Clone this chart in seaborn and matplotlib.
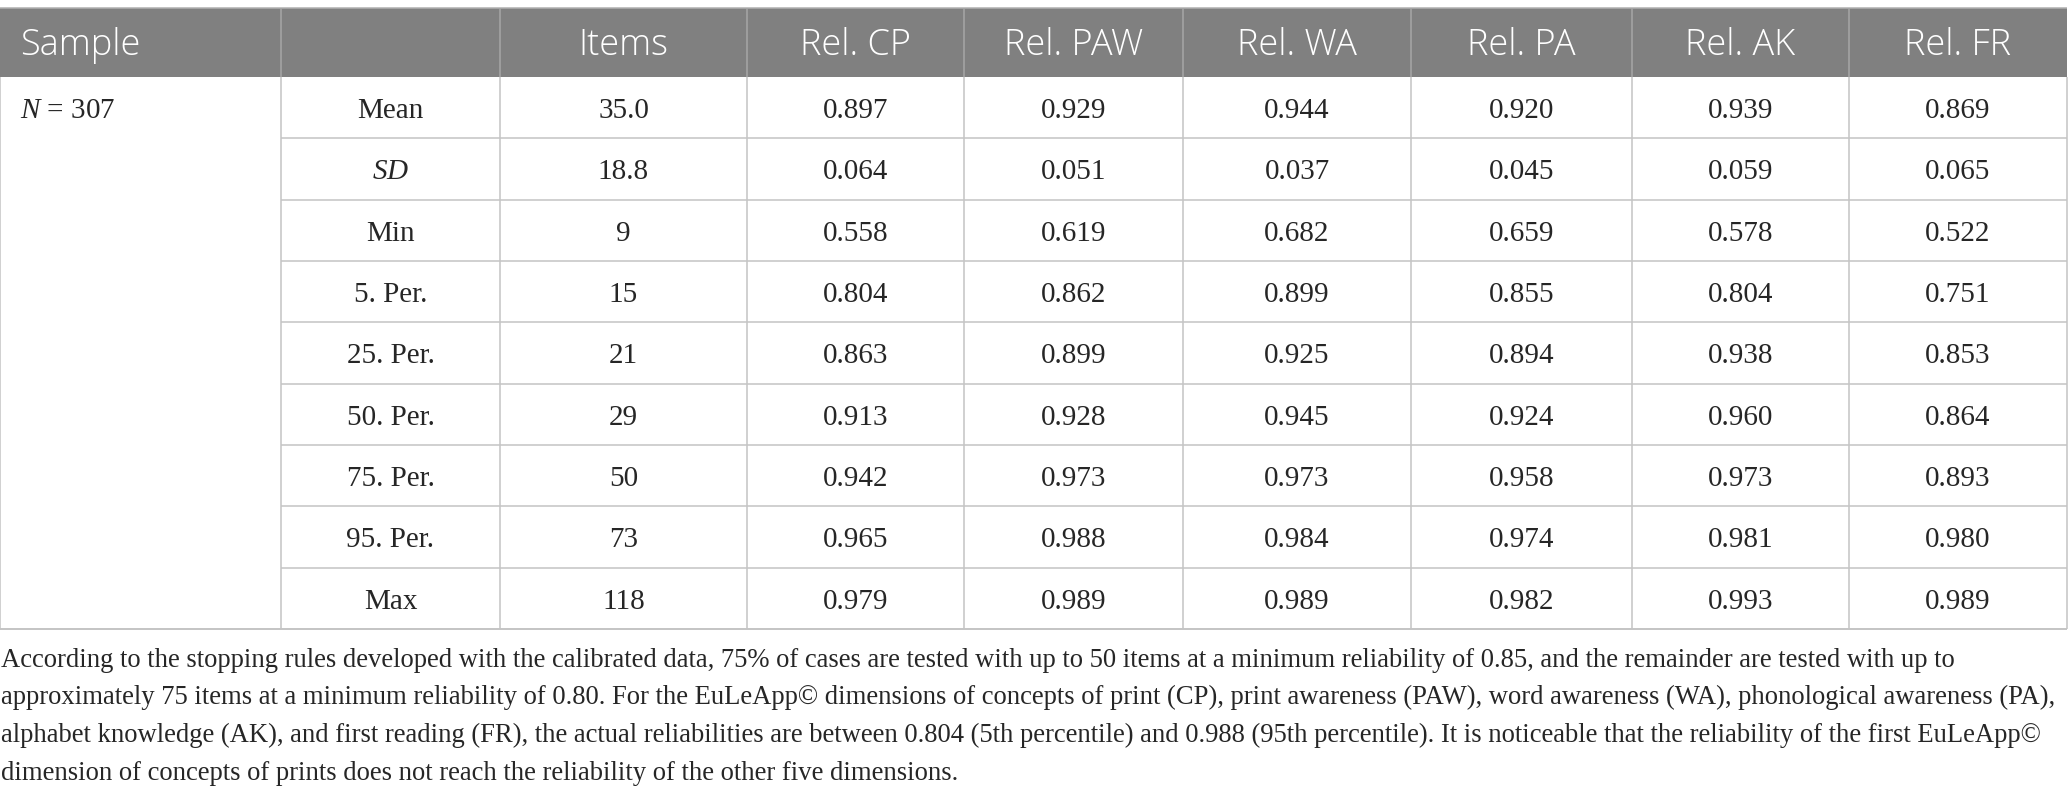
import matplotlib
matplotlib.use("Agg")
import matplotlib.pyplot as plt
import seaborn as sns

# table content
header = ["Sample", "", "Items", "Rel. CP", "Rel. PAW", "Rel. WA", "Rel. PA", "Rel. AK", "Rel. FR"]
sample_label = r"$\mathit{N}$ = 307"
stat_labels = ["Mean", r"$\mathit{SD}$", "Min", "5. Per.", "25. Per.", "50. Per.", "75. Per.", "95. Per.", "Max"]
items = [35.0, 18.8, 9, 15, 21, 29, 50, 73, 118]
rel_cp = [0.897, 0.064, 0.558, 0.804, 0.863, 0.913, 0.942, 0.965, 0.979]
rel_paw = [0.929, 0.051, 0.619, 0.862, 0.899, 0.928, 0.973, 0.988, 0.989]
rel_wa = [0.944, 0.037, 0.682, 0.899, 0.925, 0.945, 0.973, 0.984, 0.989]
rel_pa = [0.920, 0.045, 0.659, 0.855, 0.894, 0.924, 0.958, 0.974, 0.982]
rel_ak = [0.939, 0.059, 0.578, 0.804, 0.938, 0.960, 0.973, 0.981, 0.993]
rel_fr = [0.869, 0.065, 0.522, 0.751, 0.853, 0.864, 0.893, 0.980, 0.989]
caption = [
    "According to the stopping rules developed with the calibrated data, 75% of cases are tested with up to 50 items at a minimum reliability of 0.85, and the remainder are tested with up to",
    "approximately 75 items at a minimum reliability of 0.80. For the EuLeApp\u00a9 dimensions of concepts of print (CP), print awareness (PAW), word awareness (WA), phonological awareness (PA),",
    "alphabet knowledge (AK), and first reading (FR), the actual reliabilities are between 0.804 (5th percentile) and 0.988 (95th percentile). It is noticeable that the reliability of the first EuLeApp\u00a9",
    "dimension of concepts of prints does not reach the reliability of the other five dimensions.",
]

sns.set_theme(style="white")
plt.rcParams['mathtext.fontset'] = 'custom'
plt.rcParams['mathtext.rm'] = 'Liberation Serif'
plt.rcParams['mathtext.it'] = 'Liberation Serif:italic'

W, H = 2068, 798
col_x = [0, 281, 500, 747, 964, 1183, 1411, 1632, 1849, 2067]
head_top, head_bot = 8, 77
body_bot = 629
n_rows = len(stat_labels)
row_h = (body_bot - head_bot) / n_rows

head_col = "#808080"
grid_col = "#c4c4c4"
serif = "Liberation Serif"
sans = "Open Sans"

fig = plt.figure(figsize=(W / 100, H / 100), dpi=100)
ax = fig.add_axes([0, 0, 1, 1])
ax.set_xlim(0, W)
ax.set_ylim(H, 0)
ax.axis("off")

# header band
ax.fill_between([col_x[0], col_x[-1]], head_top, head_bot, color=head_col, lw=0)
ax.hlines(head_top, col_x[0], col_x[-1], color="#b0b0b0", lw=1.1)
ax.vlines(col_x[1:-1], head_top, head_bot, color="#a6a6a6", lw=1.1)
for j, h in enumerate(header):
    if not h:
        continue
    if j == 0:
        ax.text(col_x[0] + 20, head_bot - 22, h, color="white", fontsize=26,
                family=sans, weight="light", ha="left", va="baseline")
    else:
        ax.text((col_x[j] + col_x[j + 1]) / 2, head_bot - 22, h, color="white", fontsize=26,
                family=sans, weight="light", ha="center", va="baseline")

# body grid (the Sample column is one merged cell)
for i in range(1, n_rows):
    ax.hlines(head_bot + i * row_h, col_x[1], col_x[-1], color=grid_col, lw=1.1)
ax.hlines(body_bot, col_x[0], col_x[-1], color=grid_col, lw=1.4)
ax.vlines(col_x, head_bot, body_bot, color=grid_col, lw=1.1)

ax.text(col_x[0] + 20, head_bot + 41, sample_label, fontsize=21, family=serif,
        ha="left", va="baseline")

columns = [items, rel_cp, rel_paw, rel_wa, rel_pa, rel_ak, rel_fr]
for i, lab in enumerate(stat_labels):
    base = head_bot + i * row_h + 41
    ax.text((col_x[1] + col_x[2]) / 2, base, lab, fontsize=21, family=serif,
            ha="center", va="baseline")
    for j, vals in enumerate(columns):
        v = vals[i]
        if j == 0:
            s = f"{v:.1f}" if i < 2 else f"{int(v)}"
        else:
            s = f"{v:.3f}"
        ax.text((col_x[j + 2] + col_x[j + 3]) / 2, base, s, fontsize=21, family=serif,
                ha="center", va="baseline")

# caption
for k, line in enumerate(caption):
    ax.text(1, 667 + k * 37.5, line, fontsize=19.2, family=serif, ha="left", va="baseline")

fig.savefig("out.png", dpi=100)
